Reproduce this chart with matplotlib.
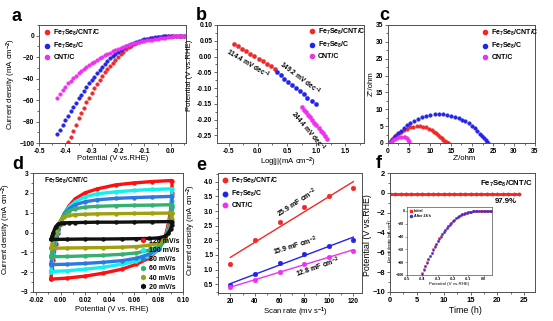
import numpy as np
import matplotlib
matplotlib.use("Agg")
import matplotlib.pyplot as plt
from matplotlib.ticker import MultipleLocator, FormatStrFormatter
from matplotlib.lines import Line2D

plt.rcParams["font.family"] = ["Liberation Sans", "DejaVu Sans"]
plt.rcParams["font.weight"] = "bold"
plt.rcParams["mathtext.fontset"] = "custom"
plt.rcParams["mathtext.rm"] = "Liberation Sans:bold"
plt.rcParams["mathtext.bf"] = "Liberation Sans:bold"
plt.rcParams["mathtext.it"] = "Liberation Sans:bold"
plt.rcParams["mathtext.default"] = "rm"
plt.rcParams["axes.linewidth"] = 0.7
plt.rcParams["axes.edgecolor"] = "#505050"

# ---------------- data ----------------
samples = ["Fe$_7$Se$_8$/CNT/C", "Fe$_7$Se$_8$/C", "CNT/C"]
colors = ["#f02828", "#2424e8", "#f030f0"]

# (a) polarization curves
lsv_v_fecnt = np.round(np.arange(-0.39, 0.0501, 0.01), 3)
lsv_j_fecnt = [-99, -94, -88.5, -83, -77, -72, -67, -62, -58, -53.5, -49, -45,
               -41, -37.5, -34, -31, -28.3, -25.3, -22.4, -19.6, -17, -14.8,
               -12.7, -10.8, -9.2, -7.8, -6.6, -5.6, -4.7, -3.9, -3.2, -2.6,
               -2.1, -1.7, -1.3, -1.0, -0.8, -0.6, -0.4, -0.3, -0.2, -0.1,
               -0.05, 0, 0]
lsv_v_fec = np.round(np.arange(-0.43, 0.0501, 0.01), 3)
lsv_j_fec = [-92, -87.5, -83, -78.5, -74.5, -70.5, -66.5, -62.5, -58.5, -55,
             -51.5, -48, -44.5, -41.5, -38.3, -35.2, -32.2, -29.2, -26.3, -23.6,
             -21.2, -19, -16.8, -14.8, -13, -11.4, -10, -8.7, -7.5, -6.4, -5.4,
             -4.6, -3.8, -3.2, -2.6, -2.2, -1.8, -1.5, -1.2, -0.9, -0.7, -0.5,
             -0.4, -0.3, -0.2, -0.1, -0.05, 0, 0]
lsv_v_cnt = np.round(np.arange(-0.43, 0.0501, 0.01), 3)
lsv_j_cnt = [-58, -54.5, -51, -47.5, -44.5, -42, -39.5, -37.3, -35.2, -33.2,
             -31.2, -29.3, -27.5, -25.8, -24.2, -22.6, -21.1, -19.6, -18.3, -17,
             -15.8, -14.6, -13.4, -12.4, -11.4, -10.4, -9.5, -8.6, -7.8, -7,
             -6.4, -5.8, -5.3, -4.8, -4.4, -4, -3.6, -3.2, -2.8, -2.4, -2,
             -1.7, -1.3, -1, -0.7, -0.5, -0.3, -0.1, 0]

# (b) Tafel plots
tafel_x_fecnt = [-0.41, -0.34, -0.27, -0.20, -0.13, -0.06, 0.02, 0.09, 0.16, 0.23, 0.30]
tafel_y_fecnt = [0.041, 0.033, 0.025, 0.017, 0.009, 0.001, -0.007, -0.015, -0.023, -0.031, -0.039]
tafel_x_fec = [0.32, 0.39, 0.45, 0.52, 0.59, 0.65, 0.72, 0.79, 0.85, 0.92, 0.99]
tafel_y_fec = [-0.050, -0.060, -0.070, -0.080, -0.090, -0.100, -0.110, -0.120, -0.130, -0.140, -0.150]
tafel_x_cnt = [0.76, 0.795, 0.83, 0.865, 0.90, 0.935, 0.97, 1.005, 1.04, 1.075, 1.11, 1.145, 1.18]
tafel_y_cnt = [-0.160, -0.168, -0.177, -0.185, -0.193, -0.202, -0.210, -0.218, -0.227, -0.235, -0.243, -0.252, -0.260]
tafel_slopes = ["114.4", "149.2", "244.4"]

# (c) Nyquist plots
eis_re_fecnt = [0.3, 0.6, 1.0, 1.5, 2.0, 2.6, 3.2, 3.9, 4.6, 5.3, 6.0, 6.8, 7.6,
                8.4, 9.1, 9.8, 10.4, 11.0, 11.5, 12.0, 12.4, 12.8, 13.2, 13.6,
                13.9, 14.2, 14.3]
eis_im_fecnt = [0.0, 0.5, 1.1, 1.7, 2.3, 2.9, 3.4, 3.9, 4.3, 4.6, 4.8, 4.9, 4.9,
                4.8, 4.6, 4.3, 3.9, 3.4, 2.9, 2.4, 1.9, 1.4, 1.0, 0.6, 0.3, 0.1, 0.0]
eis_re_fec = [0.2, 0.6, 1.1, 1.7, 2.3, 3.0, 3.7, 4.5, 5.3, 6.2, 7.1, 8.1, 9.1,
              10.1, 11.1, 12.1, 13.1, 14.1, 15.0, 15.9, 16.8, 17.6, 18.4, 19.2,
              19.9, 20.6, 21.3, 21.9, 22.4, 22.9, 23.3, 23.6, 23.8]
eis_im_fec = [0.0, 0.6, 1.3, 2.1, 2.9, 3.7, 4.5, 5.3, 6.0, 6.6, 7.2, 7.7, 8.0,
              8.3, 8.5, 8.6, 8.6, 8.4, 8.1, 7.8, 7.4, 6.9, 6.4, 5.8, 5.1, 4.4,
              3.6, 2.8, 2.1, 1.4, 0.8, 0.3, 0.0]
eis_re_cnt = [0.4, 0.8, 1.2, 1.7, 2.2, 2.7, 3.2, 3.7, 4.1, 4.5, 4.8, 4.95, 5.0]
eis_im_cnt = [0.0, 0.4, 0.8, 1.2, 1.5, 1.7, 1.8, 1.8, 1.7, 1.4, 1.0, 0.5, 0.0]

# (d) cyclic voltammograms at different scan rates
cv_rates = ["120 mV/s", "100 mV/s", "80 mV/s", "60 mV/s", "40 mV/s", "20 mV/s"]
cv_colors = ["#ff1010", "#10f0f0", "#2f78e0", "#35b070", "#a0a010", "#111111"]
cv_e_fwd = [-0.008, -0.007, -0.006, -0.004, -0.002, 0.0, 0.003, 0.007, 0.012,
            0.02, 0.03, 0.045, 0.06, 0.075, 0.09]
cv_e_rev = [0.091, 0.091, 0.090, 0.088, 0.085, 0.080, 0.072, 0.062, 0.050,
            0.035, 0.020, 0.005, -0.008]
cv_i_fwd = [
    [-2.35, -1.9, -1.4, -0.6, 0.0, 0.45, 0.95, 1.35, 1.7, 2.0, 2.2, 2.4, 2.5, 2.57, 2.62],
    [-1.97, -1.55, -1.1, -0.4, 0.1, 0.5, 0.95, 1.3, 1.55, 1.8, 1.95, 2.05, 2.12, 2.17, 2.2],
    [-1.6, -1.25, -0.85, -0.25, 0.2, 0.55, 0.95, 1.2, 1.4, 1.55, 1.65, 1.72, 1.76, 1.79, 1.82],
    [-1.22, -0.95, -0.6, -0.1, 0.3, 0.6, 0.9, 1.1, 1.2, 1.28, 1.32, 1.35, 1.37, 1.38, 1.4],
    [-0.8, -0.6, -0.35, 0.1, 0.4, 0.6, 0.78, 0.86, 0.9, 0.92, 0.94, 0.95, 0.96, 0.97, 0.98],
    [-0.35, -0.2, 0.0, 0.3, 0.42, 0.46, 0.48, 0.5, 0.5, 0.51, 0.52, 0.52, 0.53, 0.54, 0.55],
]
cv_i_rev = [
    [2.62, 2.0, 1.2, 0.4, -0.3, -0.85, -1.3, -1.6, -1.85, -2.05, -2.2, -2.3, -2.35],
    [2.2, 1.6, 0.9, 0.2, -0.4, -0.85, -1.2, -1.45, -1.6, -1.75, -1.85, -1.93, -1.97],
    [1.82, 1.3, 0.7, 0.1, -0.4, -0.8, -1.1, -1.3, -1.42, -1.5, -1.56, -1.6, -1.62],
    [1.4, 1.0, 0.5, 0.0, -0.4, -0.7, -0.9, -1.03, -1.1, -1.15, -1.18, -1.21, -1.22],
    [0.98, 0.7, 0.35, -0.05, -0.35, -0.55, -0.65, -0.71, -0.74, -0.76, -0.77, -0.78, -0.8],
    [0.55, 0.4, 0.2, -0.05, -0.2, -0.27, -0.3, -0.31, -0.32, -0.33, -0.33, -0.34, -0.35],
]

# (e) double-layer capacitance
scan_rate = [20, 40, 60, 80, 100, 120]
dj_fecnt = [1.19, 2.00, 2.63, 3.13, 3.53, 3.79]
dj_fec = [0.48, 0.86, 1.22, 1.53, 1.80, 2.00]
dj_cnt = [0.39, 0.65, 0.93, 1.18, 1.44, 1.64]
cdl_values = [25.9, 15.9, 12.8]   # mF cm-2

# (f) stability
stab_time = [0, 1, 2, 3, 4, 5, 6, 7, 8, 9, 10, 11, 12, 13, 14, 15, 16, 17, 18,
             19, 20, 21, 22, 23, 24]
stab_potential = [-0.13, -0.13, -0.13, -0.13, -0.13, -0.13, -0.13, -0.13,
                  -0.13, -0.13, -0.13, -0.13, -0.13, -0.13, -0.13, -0.13,
                  -0.13, -0.13, -0.13, -0.13, -0.13, -0.13, -0.13, -0.13, -0.13]
retention = "97.9%"
inset_v = np.round(np.arange(-0.40, 0.0501, 0.01), 3)
inset_j_initial = [-97, -91, -85.5, -80, -75, -70, -65, -60, -55.5, -51, -47,
                   -43, -39.5, -36, -32.5, -29.5, -26.5, -23.5, -21, -18.5, -16,
                   -13.8, -11.7, -9.8, -8.1, -6.6, -5.3, -4.2, -3.3, -2.6, -2.0,
                   -1.5, -1.1, -0.8, -0.6, -0.45, -0.3, -0.2, -0.15, -0.1,
                   -0.05, 0, 0, 0, 0, 0]
inset_j_after = [-98, -92, -86.5, -81, -75.5, -70.5, -65.5, -60.5, -56, -51.5,
                 -47.5, -43.5, -40, -36.5, -33, -30, -27, -24, -21.3, -18.8,
                 -16.2, -14, -11.9, -10, -8.3, -6.8, -5.5, -4.4, -3.4, -2.7,
                 -2.1, -1.6, -1.2, -0.9, -0.7, -0.5, -0.35, -0.25, -0.15, -0.1,
                 -0.05, 0, 0, 0, 0, 0]

# ---------------- layout helpers ----------------
W, H = 553, 321
fig = plt.figure(figsize=(W / 100, H / 100), dpi=100)


def box(l, t, r, b):
    return [l / W, 1 - b / H, (r - l) / W, (b - t) / H]


def style(ax, fs=4.8):
    ax.tick_params(which="both", direction="out", labelsize=fs, width=0.6,
                   pad=1.2, colors="#505050", labelcolor="black")
    ax.tick_params(which="major", length=2.2)
    ax.tick_params(which="minor", length=1.2)


def legend(ax, handles, labels, x, y, fs=5.0, spacing=0.45):
    fs_px = fs * 100 / 72
    return ax.legend(handles, labels, loc="upper left",
                     bbox_to_anchor=((x - 0.4 * fs_px) / W, 1 - (y - 0.75 * fs_px) / H),
                     bbox_transform=fig.transFigure, frameon=False, fontsize=fs,
                     handlelength=0.8, handletextpad=0.5, labelspacing=spacing,
                     borderaxespad=0, borderpad=0, markerscale=1.0)


def marker_handle(c, ms=3.0, m="o"):
    return Line2D([], [], ls="none", marker=m, ms=ms, color=c, mec=c)


def panel_letter(x, y, s):
    fig.text(x / W, 1 - y / H, s, fontsize=13, fontweight="bold", va="baseline")


LBL = 5.6

# ---------------- (a) ----------------
ax = fig.add_axes(box(39, 25, 186, 143))
for v, j, c in zip([lsv_v_fecnt, lsv_v_fec, lsv_v_cnt],
                   [lsv_j_fecnt, lsv_j_fec, lsv_j_cnt], colors):
    ax.plot(v, j, "o", ms=2.6, color=c, mec=c, mew=0.3)
ax.set_xlim(-0.5, 0.058)
ax.set_ylim(-100, 10)
ax.xaxis.set_major_locator(MultipleLocator(0.1))
ax.xaxis.set_minor_locator(MultipleLocator(0.05))
ax.xaxis.set_major_formatter(FormatStrFormatter("%.1f"))
ax.yaxis.set_major_locator(MultipleLocator(20))
ax.yaxis.set_minor_locator(MultipleLocator(10))
style(ax)
ax.set_xlabel("Potential (V vs.RHE)", fontsize=LBL)
ax.set_ylabel("Current density (mA cm$^{-2}$)", fontsize=LBL)
ax.xaxis.set_label_coords(0.5, -0.105)
ax.yaxis.set_label_coords(-0.145, 0.5)
legend(ax, [marker_handle(c) for c in colors], samples, 47, 33)

# ---------------- (b) ----------------
ax = fig.add_axes(box(217, 25, 364, 143))
for x, y, c in zip([tafel_x_fecnt, tafel_x_fec, tafel_x_cnt],
                   [tafel_y_fecnt, tafel_y_fec, tafel_y_cnt], colors):
    ax.plot(x, y, "o", ms=3.0, color=c, mec=c, mew=0.3)
ax.set_xlim(-0.7, 1.82)
ax.set_ylim(-0.274, 0.10)
ax.xaxis.set_major_locator(MultipleLocator(0.5))
ax.xaxis.set_minor_locator(MultipleLocator(0.25))
ax.xaxis.set_major_formatter(FormatStrFormatter("%.1f"))
ax.yaxis.set_major_locator(MultipleLocator(0.05))
ax.yaxis.set_minor_locator(MultipleLocator(0.025))
ax.yaxis.set_major_formatter(FormatStrFormatter("%.2f"))
style(ax)
ax.set_xlabel("Log|j|(mA cm$^{-2}$)", fontsize=LBL)
ax.set_ylabel("Potential (V vs.RHE)", fontsize=LBL)
ax.xaxis.set_label_coords(0.486, -0.105)
ax.yaxis.set_label_coords(-0.16, 0.576)
for s, xy, rot in zip(tafel_slopes, [(-0.16, -0.022), (0.73, -0.070), (0.86, -0.236)],
                      [-31, -37, -50]):
    ax.text(xy[0], xy[1], s + " mV dec$^{-1}$", fontsize=4.8, rotation=rot,
            rotation_mode="anchor", ha="center", va="center")
legend(ax, [marker_handle(c) for c in colors], samples, 312, 32)

# ---------------- (c) ----------------
ax = fig.add_axes(box(388, 25, 535, 143))
for x, y, c in zip([eis_re_fecnt, eis_re_fec, eis_re_cnt],
                   [eis_im_fecnt, eis_im_fec, eis_im_cnt], colors):
    ax.plot(x, y, "o", ms=2.6, color=c, mec=c, mew=0.3)
ax.set_xlim(0, 35)
ax.set_ylim(0, 35)
ax.xaxis.set_major_locator(MultipleLocator(5))
ax.xaxis.set_minor_locator(MultipleLocator(2.5))
ax.yaxis.set_major_locator(MultipleLocator(5))
ax.yaxis.set_minor_locator(MultipleLocator(2.5))
style(ax)
ax.set_xlabel("Z'/ohm", fontsize=LBL)
ax.set_ylabel("Z''/ohm", fontsize=LBL)
ax.xaxis.set_label_coords(0.52, -0.105)
ax.yaxis.set_label_coords(-0.09, 0.5)
legend(ax, [marker_handle(c) for c in colors], samples, 485, 33)

# ---------------- (d) ----------------
ax = fig.add_axes(box(33, 173, 183, 292))
for k in range(len(cv_rates)):
    e = cv_e_fwd + cv_e_rev
    i = cv_i_fwd[k] + cv_i_rev[k]
    ax.plot(e, i, "-o", lw=2.4, ms=2.8, color=cv_colors[k], mec=cv_colors[k],
            mew=0.3, solid_joinstyle="round", solid_capstyle="round")
ax.set_xlim(-0.0225, 0.1)
ax.set_ylim(-3, 3)
ax.xaxis.set_major_locator(MultipleLocator(0.02))
ax.xaxis.set_minor_locator(MultipleLocator(0.01))
ax.xaxis.set_major_formatter(FormatStrFormatter("%.2f"))
ax.yaxis.set_major_locator(MultipleLocator(1))
ax.yaxis.set_minor_locator(MultipleLocator(0.5))
style(ax)
ax.set_xlabel("Potential (V vs. RHE)", fontsize=LBL)
ax.set_ylabel("Current density (mA cm$^{-2}$)", fontsize=LBL)
ax.xaxis.set_label_coords(0.523, -0.115)
ax.yaxis.set_label_coords(-0.135, 0.53)
ax.text(0.07, 0.93, "Fe$_7$Se$_8$/CNT/C", transform=ax.transAxes, fontsize=4.8,
        va="center")
legend(ax, [marker_handle(c, 3.0, "h") for c in cv_colors], cv_rates, 143, 243,
       fs=5.0, spacing=0.32)

# ---------------- (e) ----------------
ax = fig.add_axes(box(218, 173, 362, 293))
for y, c, cdl in zip([dj_fecnt, dj_fec, dj_cnt], colors, cdl_values):
    ax.plot(scan_rate, y, "o", ms=3.4, color=c, mec=c, mew=0.3)
    xs = np.array([scan_rate[0], scan_rate[-1]], dtype=float)
    slope = cdl / 1000.0
    ym = np.mean(y)
    xm = np.mean(scan_rate)
    ax.plot(xs, ym + slope * (xs - xm), "-", lw=1.0, color=c)
ax.set_xlim(10, 127)
ax.set_ylim(0.2, 4.3)
ax.xaxis.set_major_locator(MultipleLocator(20))
ax.xaxis.set_minor_locator(MultipleLocator(10))
ax.yaxis.set_major_locator(MultipleLocator(0.5))
ax.yaxis.set_minor_locator(MultipleLocator(0.25))
ax.yaxis.set_major_formatter(FormatStrFormatter("%.1f"))
style(ax)
ax.set_xlabel("Scan rate (mv s$^{-1}$)", fontsize=LBL)
ax.set_ylabel("Current density (mA cm$^{-2}$)", fontsize=LBL)
ax.xaxis.set_label_coords(0.54, -0.106)
ax.yaxis.set_label_coords(-0.14, 0.525)
for cdl, xy, rot in zip(cdl_values, [(74, 3.27), (73, 1.80), (91, 1.08)], [33, 17, 19]):
    ax.text(xy[0], xy[1], f"{cdl} mF cm$^{{-2}}$", fontsize=5.0, rotation=rot,
            rotation_mode="anchor", ha="center", va="center")
legend(ax, [marker_handle(c, 3.2) for c in colors], samples, 225, 181)

# ---------------- (f) ----------------
ax = fig.add_axes(box(390, 173, 535, 292))
ax.plot(stab_time, stab_potential, "-o", lw=2.0, ms=2.4, color="#f02828",
        mec="#f02828", mew=0.3)
ax.set_xlim(0, 27)
ax.set_ylim(-10, 2)
ax.xaxis.set_major_locator(MultipleLocator(5))
ax.xaxis.set_minor_locator(MultipleLocator(2.5))
ax.yaxis.set_major_locator(MultipleLocator(2))
ax.yaxis.set_minor_locator(MultipleLocator(1))
style(ax, fs=5.4)
ax.set_xlabel("Time (h)", fontsize=6.4)
ax.set_ylabel("Potential (V vs.RHE)", fontsize=6.4)
ax.xaxis.set_label_coords(0.52, -0.115)
ax.yaxis.set_label_coords(-0.125, 0.48)
ax.text(0.62, 0.905, "Fe$_7$Se$_8$/CNT/C", transform=ax.transAxes, fontsize=5.6,
        va="center")
ax.text(0.72, 0.76, retention, transform=ax.transAxes, fontsize=5.6, va="center")

ins = fig.add_axes(box(407, 207, 492, 275))
ins.plot(inset_v, inset_j_initial, "s", ms=1.4, color="#f02828", mec="#f02828", mew=0.2)
ins.plot(inset_v, inset_j_after, "o", ms=1.4, color="#3030e8", mec="#3030e8", mew=0.2)
ins.set_xlim(-0.5, 0.055)
ins.set_ylim(-100, 6)
ins.xaxis.set_major_locator(MultipleLocator(0.1))
ins.xaxis.set_major_formatter(FormatStrFormatter("%.1f"))
ins.yaxis.set_major_locator(MultipleLocator(20))
ins.tick_params(which="both", direction="out", labelsize=2.6, width=0.4,
                length=1.2, pad=0.6, colors="#505050", labelcolor="black")
for sp in ins.spines.values():
    sp.set_linewidth(0.5)
ins.set_xlabel("Potential (V vs.RHE)", fontsize=3.2, labelpad=0.5)
ins.set_ylabel("Current density (mA cm$^{-2}$)", fontsize=2.6, labelpad=0.5)
ins.legend([marker_handle("#f02828", 1.5, "s"), marker_handle("#3030e8", 1.5)],
           ["Initial", "After 24 h"], loc="upper left", frameon=False,
           fontsize=2.6, handlelength=0.8, handletextpad=0.5, labelspacing=0.3,
           borderaxespad=0.4, borderpad=0.2)

# panel letters
panel_letter(12, 21, "a")
panel_letter(196, 20, "b")
panel_letter(379, 20, "c")
panel_letter(12, 169, "d")
panel_letter(196, 170, "e")
panel_letter(376, 168, "f")

fig.savefig("out.png", dpi=100)
